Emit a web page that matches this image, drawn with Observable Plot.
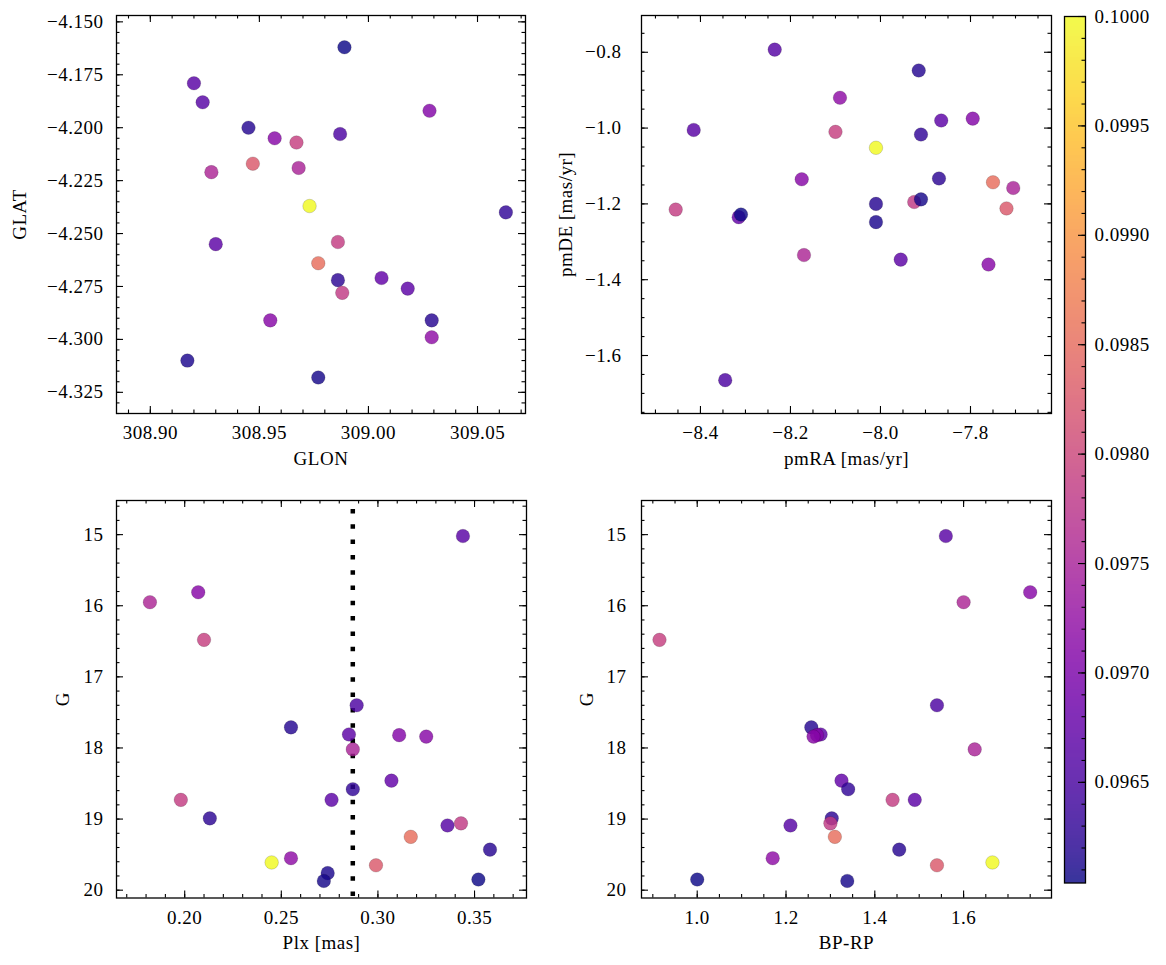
<!DOCTYPE html>
<html><head><meta charset="utf-8">
<script src="https://cdn.jsdelivr.net/npm/d3@7"></script>
<script src="https://cdn.jsdelivr.net/npm/@observablehq/plot@0.6"></script>
<style>
html,body{margin:0;padding:0;background:#fff;}
#fig{position:relative;width:1166px;height:965px;background:#fff;overflow:hidden;}
#fig > svg{position:absolute;}
#fig svg text{letter-spacing:0.5px;}
</style></head><body><div id="fig"></div>
<script>
// ---- data (one entry per star) ----
const glon = [308.920,308.957,308.928,308.967,308.987,308.945,308.930,309.028,308.955,308.968,309.006,309.063,309.018,308.986,308.986,308.988,308.924,308.977,309.029,309.029,308.973,308.947,308.917,308.977,308.989];
const glat = [-4.179,-4.205,-4.221,-4.207,-4.203,-4.200,-4.255,-4.192,-4.291,-4.219,-4.271,-4.240,-4.276,-4.254,-4.272,-4.278,-4.188,-4.264,-4.291,-4.299,-4.237,-4.217,-4.310,-4.318,-4.162];
const pmra = [-8.415,-8.175,-8.170,-8.100,-8.345,-7.915,-7.955,-7.795,-7.760,-7.705,-8.315,-7.910,-7.865,-8.455,-7.870,-7.925,-8.235,-7.750,-8.010,-8.090,-8.010,-7.720,-8.010,-7.910,-8.310];
const pmde = [-1.005,-1.135,-1.335,-1.010,-1.665,-0.848,-1.347,-0.975,-1.360,-1.158,-1.235,-1.017,-0.980,-1.215,-1.133,-1.195,-0.793,-1.143,-1.200,-0.920,-1.052,-1.212,-1.248,-1.188,-1.228];
const plx  = [0.344,0.207,0.182,0.210,0.289,0.255,0.285,0.311,0.325,0.287,0.307,0.287,0.276,0.198,0.213,0.343,0.336,0.317,0.358,0.255,0.245,0.299,0.274,0.272,0.352];
const gmag = [15.02,15.81,15.95,16.48,17.40,17.71,17.81,17.82,17.84,18.02,18.46,18.58,18.73,18.73,18.99,19.06,19.09,19.25,19.43,19.55,19.61,19.65,19.76,19.87,19.85];
const bprp = [1.560,1.750,1.600,0.915,1.540,1.257,1.278,1.270,1.262,1.625,1.325,1.340,1.490,1.440,1.303,1.300,1.210,1.310,1.455,1.170,1.665,1.540,null,1.338,1.000];
const prob = [0.09665,0.09712,0.09755,0.09790,0.09655,0.09618,0.09668,0.09708,0.09712,0.09752,0.09675,0.09630,0.09670,0.09788,0.09625,0.09782,0.09662,0.09852,0.09620,0.09720,0.10000,0.09826,0.09612,0.09610,0.09604];
const plxCut = 0.287;

// ---- tick labels ----
const glonTicks = [308.90, 308.95, 309.00, 309.05];
const glatTicks = [-4.150, -4.175, -4.200, -4.225, -4.250, -4.275, -4.300, -4.325];
const pmraTicks = [-8.4, -8.2, -8.0, -7.8];
const pmdeTicks = [-0.8, -1.0, -1.2, -1.4, -1.6];
const plxTicks  = [0.20, 0.25, 0.30, 0.35];
const gTicks    = [15, 16, 17, 18, 19, 20];
const bprpTicks = [1.0, 1.2, 1.4, 1.6];
const cbarTicks = [0.0965, 0.0970, 0.0975, 0.0980, 0.0985, 0.0990, 0.0995, 0.1000];
const cbarDomain = [0.09604, 0.1000];

const rows = glon.map((_, i) => ({glon: glon[i], glat: glat[i], pmra: pmra[i], pmde: pmde[i], plx: plx[i], g: gmag[i], bprp: bprp[i], p: prob[i]}));

const STYLE = "font-family:'Liberation Serif','Times New Roman',serif;font-size:19px;color:black;background:transparent;overflow:visible;";
const colorOpt = {type: "linear", scheme: "plasma", domain: cbarDomain};

function minorTicks(domain, step) {
  const [a, b] = d3.extent(domain);
  const out = [];
  for (let k = Math.ceil(a / step - 1e-6); k <= Math.floor(b / step + 1e-6); k++) out.push(+(k * step).toFixed(8));
  return out;
}

const fig = document.getElementById("fig");

function panel(o) {
  const m = o.margin;
  const fw = o.width - m.left - m.right, fh = o.height - m.top - m.bottom;
  const xm = minorTicks(o.xDomain, o.xMinor), ym = minorTicks(o.yDomain, o.yMinor);
  const MAJ = 7, MIN = 3.5, TW = 1.1;
  const svg = Plot.plot({
    width: o.width, height: o.height,
    marginLeft: m.left, marginRight: m.right, marginTop: m.top, marginBottom: m.bottom,
    x: {domain: o.xDomain},
    y: {domain: o.yDomain},
    color: colorOpt,
    style: STYLE,
    marks: [
      ...(o.extra || []),
      Plot.dot(rows.filter(d => d[o.xKey] != null && d[o.yKey] != null), {x: o.xKey, y: o.yKey, r: 6.8, fill: "p", fillOpacity: 0.82, stroke: "#000", strokeOpacity: 0.45, strokeWidth: 0.35}),
      Plot.tickX(xm, {x: d => d, insetTop: fh - MIN, strokeWidth: TW}),
      Plot.tickX(xm, {x: d => d, insetBottom: fh - MIN, strokeWidth: TW}),
      Plot.tickX(o.xTicks, {x: d => d, insetTop: fh - MAJ, strokeWidth: TW}),
      Plot.tickX(o.xTicks, {x: d => d, insetBottom: fh - MAJ, strokeWidth: TW}),
      Plot.tickY(ym, {y: d => d, insetLeft: fw - MIN, strokeWidth: TW}),
      Plot.tickY(ym, {y: d => d, insetRight: fw - MIN, strokeWidth: TW}),
      Plot.tickY(o.yTicks, {y: d => d, insetLeft: fw - MAJ, strokeWidth: TW}),
      Plot.tickY(o.yTicks, {y: d => d, insetRight: fw - MAJ, strokeWidth: TW}),
      Plot.frame({stroke: "black", strokeWidth: 1.3}),
      Plot.axisX(o.xTicks, {tickSize: 0, tickPadding: 12, tickFormat: d3.format(o.xFmt), label: null}),
      Plot.axisY(o.yTicks, {tickSize: 0, tickPadding: o.yPad, tickFormat: d3.format(o.yFmt), label: null}),
      Plot.text([o.xLabel], {text: d => d, frameAnchor: "bottom", dy: 45, lineAnchor: "middle", textAnchor: "middle"}),
      Plot.text([o.yLabel], {text: d => d, frameAnchor: "left", dx: -o.yLabelDx, rotate: -90, lineAnchor: "middle", textAnchor: "middle"})
    ]
  });
  svg.style.left = o.left + "px";
  svg.style.top = o.top + "px";
  fig.appendChild(svg);
}

panel({left: 0, top: 0, width: 540, height: 480, margin: {left: 116, right: 15, top: 15, bottom: 67},
  xKey: "glon", yKey: "glat", xDomain: [308.8845, 309.072], yDomain: [-4.335, -4.147],
  xTicks: glonTicks, yTicks: glatTicks, xMinor: 0.01, yMinor: 0.005, xFmt: ".2f", yFmt: ".3f",
  xLabel: "GLON", yLabel: "GLAT", yLabelDx: 97, yPad: 13});

panel({left: 540, top: 0, width: 520, height: 480, margin: {left: 101, right: 9, top: 15, bottom: 67},
  xKey: "pmra", yKey: "pmde", xDomain: [-8.531, -7.620], yDomain: [-1.753, -0.703],
  xTicks: pmraTicks, yTicks: pmdeTicks, xMinor: 0.05, yMinor: 0.05, xFmt: ".1f", yFmt: ".1f",
  xLabel: "pmRA [mas/yr]", yLabel: "pmDE [mas/yr]", yLabelDx: 76, yPad: 20});

panel({left: 0, top: 480, width: 540, height: 485, margin: {left: 116, right: 14, top: 20, bottom: 67.5},
  xKey: "plx", yKey: "g", xDomain: [0.1647, 0.3769], yDomain: [20.11, 14.52],
  xTicks: plxTicks, yTicks: gTicks, xMinor: 0.01, yMinor: 0.2, xFmt: ".2f", yFmt: "d",
  xLabel: "Plx [mas]", yLabel: "G", yLabelDx: 54, yPad: 13,
  extra: [Plot.ruleX([plxCut], {stroke: "black", strokeWidth: 4.5, strokeDasharray: "4.5 10.8", insetTop: 9})]});

panel({left: 540, top: 480, width: 520, height: 485, margin: {left: 101, right: 9, top: 20, bottom: 67.5},
  xKey: "bprp", yKey: "g", xDomain: [0.8745, 1.798], yDomain: [20.11, 14.52],
  xTicks: bprpTicks, yTicks: gTicks, xMinor: 0.05, yMinor: 0.2, xFmt: ".1f", yFmt: "d",
  xLabel: "BP-RP", yLabel: "G", yLabelDx: 55, yPad: 15});

// ---- colorbar ----
(function () {
  const N = 866;
  const [lo, hi] = cbarDomain;
  const steps = d3.range(N).map(i => ({a: lo + (hi - lo) * i / N, b: lo + (hi - lo) * (i + 1) / N, v: lo + (hi - lo) * (i + 0.5) / N}));
  const width = 106, height = 900;
  const m = {left: 4, right: 81, top: 16, bottom: 17.5};
  const fw = width - m.left - m.right;
  const svg = Plot.plot({
    width, height, marginLeft: m.left, marginRight: m.right, marginTop: m.top, marginBottom: m.bottom,
    y: {domain: cbarDomain},
    color: colorOpt,
    style: STYLE,
    marks: [
      Plot.rect(steps, {y1: "a", y2: "b", fill: "v", fillOpacity: 0.82, shapeRendering: "crispEdges"}),
      Plot.tickY(minorTicks(cbarDomain, 0.0001), {y: d => d, insetLeft: fw - 3.5, strokeWidth: 1.1}),
      Plot.tickY(cbarTicks, {y: d => d, insetLeft: fw - 7, strokeWidth: 1.1}),
      Plot.frame({stroke: "black", strokeWidth: 1.3}),
      Plot.axisY(cbarTicks, {anchor: "right", tickSize: 0, tickPadding: 9, tickFormat: d3.format(".4f"), label: null})
    ]
  });
  svg.style.left = "1060px";
  svg.style.top = "0px";
  fig.appendChild(svg);
})();
</script></body></html>
